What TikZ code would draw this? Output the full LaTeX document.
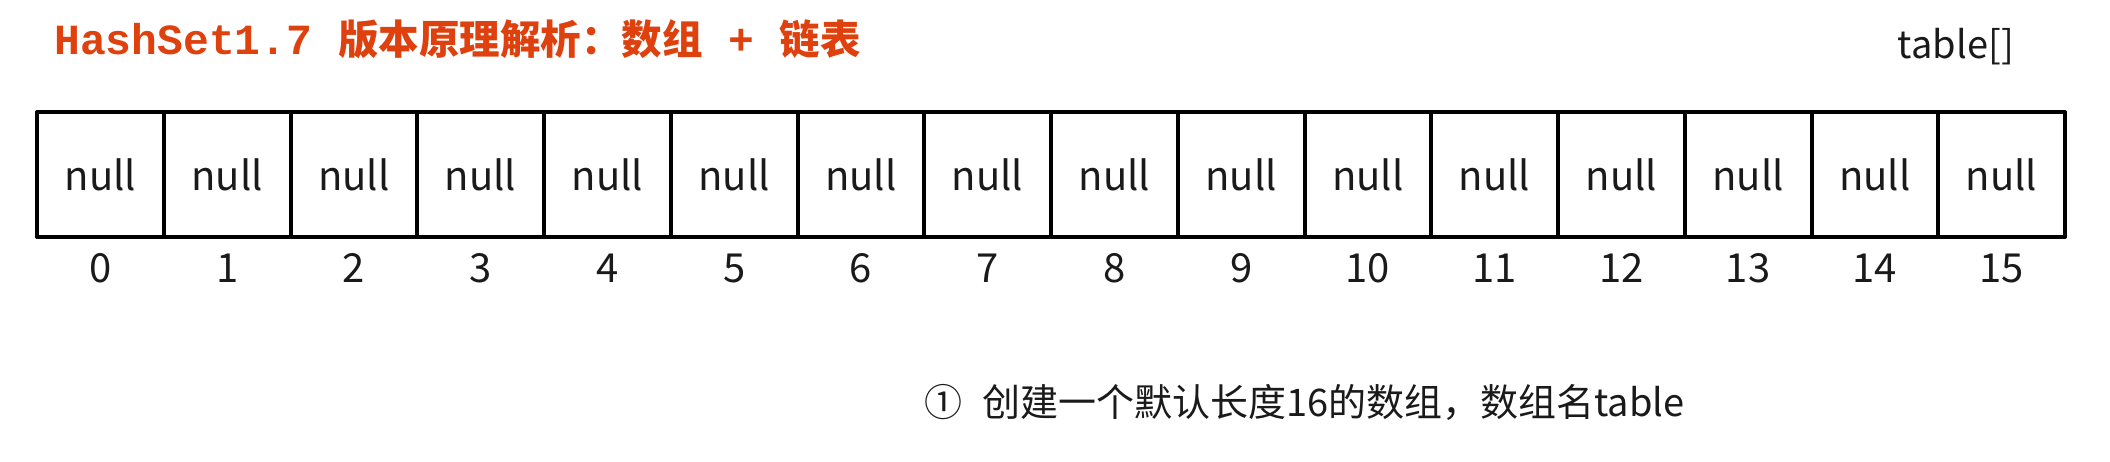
\documentclass[tikz,border=0pt]{standalone}
\usepackage{fontspec}
\setmainfont{Noto Sans CJK SC}
\newfontfamily\cjkf{Noto Sans CJK SC}
\newfontfamily\monof{Liberation Mono}
\definecolor{titlered}{RGB}{222,64,14}
\definecolor{ink}{RGB}{26,26,26}
\tikzset{
  cell/.style={draw=black, line width=4pt, line join=round, minimum width=126.75pt, minimum height=125pt, inner sep=0pt, text=ink, font=\cjkf\fontsize{40}{48}\selectfont},
  idx/.style={inner sep=0pt, anchor=base, text=ink, font=\cjkf\fontsize{40}{48}\selectfont},
  plain/.style={inner sep=0pt, text=ink, font=\cjkf\fontsize{38}{45}\selectfont},
  titletext/.style={inner sep=0pt, text=titlered}
}
\begin{document}
\begin{tikzpicture}[x=1pt,y=-1pt]
\useasboundingbox (0,0) rectangle (2110,461);
\node[titletext, anchor=base west] (title) at (54,54) {{\monof\bfseries\fontsize{43}{48}\selectfont HashSet1.7 }{\cjkf\bfseries\fontsize{40.5}{46}\selectfont 版本原理解析：数组}{\monof\bfseries\fontsize{43}{48}\selectfont{} + }{\cjkf\bfseries\fontsize{40.5}{46}\selectfont 链表}};
\node[plain, anchor=base east] (tbl) at (2014,58) {table[]};
\foreach \i in {0,...,15} {
  \node[cell] (c\i) at ({37+126.75*(\i+0.5)},174.5) {null};
  \node[idx] (i\i) at ({37+126.75*(\i+0.5)},282) {\i};
}
\node[plain, anchor=base west] (cap) at (924,416) {①\hspace{20pt}创建一个默认长度16的数组，数组名table};
\end{tikzpicture}
\end{document}
